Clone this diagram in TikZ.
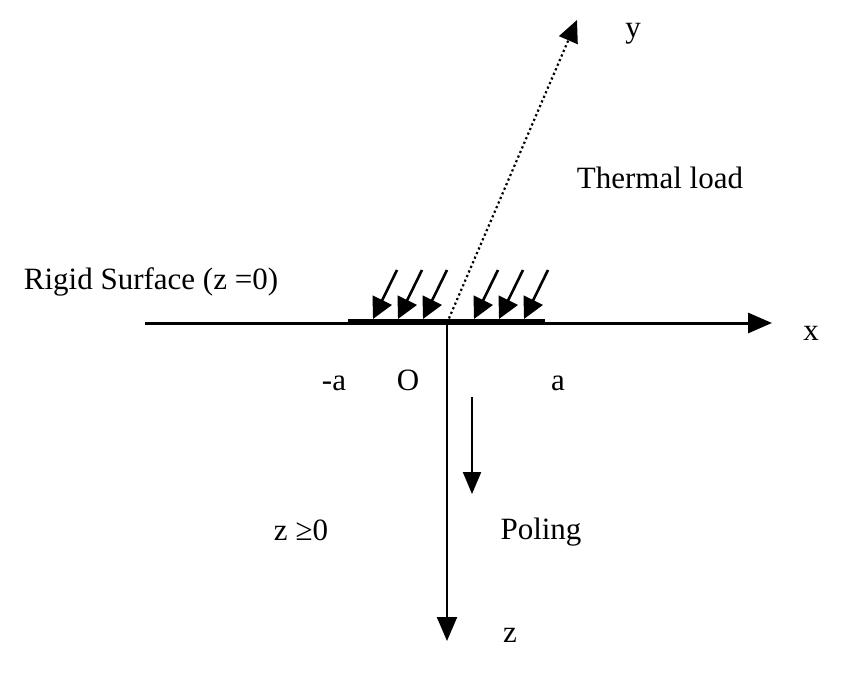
\documentclass[tikz,border=0pt]{standalone}
\usepackage{fontspec}
\setmainfont{Liberation Serif}
\usetikzlibrary{arrows.meta}
\begin{document}
\begin{tikzpicture}[x=1pt,y=-1pt]
\tikzstyle{every node}+=[inner sep=0pt,anchor=base,font=\fontsize{31}{36}\selectfont]
\tikzstyle{axis}=[black,line width=3pt,-{Triangle[length=24pt,width=20pt]}]
\tikzstyle{load}=[black,line width=2.6pt,-{Triangle[length=21pt,width=21pt]}]
\useasboundingbox (0,0) rectangle (842,674);
\coordinate (xs) at (145,323);
\coordinate (xe) at (772,323);
\coordinate (O) at (447,323);
\coordinate (ze) at (447,641);
\coordinate (ye) at (577,20);
\coordinate (ps) at (472,397);
\coordinate (pe) at (472,494);
\coordinate (ss) at (348,321);
\coordinate (se) at (545,321);
\draw [axis] (xs) -- (xe);
\draw [black,line width=3.6pt] (ss) -- (se);
\draw [axis,line width=2.2pt] (O) -- (ze);
\draw [black,line width=2.2pt,dash pattern=on 2.2pt off 2.8pt,-{Triangle[length=22pt,width=20pt]}] (O) -- (ye);
\draw [black,line width=2.2pt,-{Triangle[length=22pt,width=18pt]}] (ps) -- (pe);
\foreach \t in {373,398,423,474,499,524}
  \draw [load] (\t+24,270) -- (\t,319);
\draw (811,340) node (xl) {x};
\draw (633,38) node (yl) {y};
\draw (510,642) node (zl) {z};
\draw (660,188) node (tl) {Thermal load};
\draw (151,289) node (rl) {Rigid Surface (z =0)};
\draw (334,390) node (ml) {-a};
\draw (408,390) node (ol) {O};
\draw (558,390) node (al) {a};
\draw (541,539) node (pl) {Poling};
\draw (301,540) node (zg) {z ≥0};
\end{tikzpicture}
\end{document}
